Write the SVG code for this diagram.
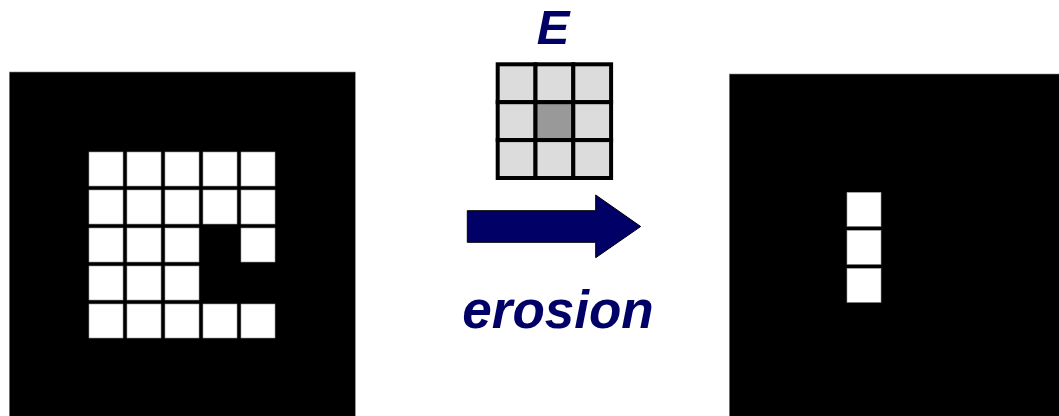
<svg xmlns="http://www.w3.org/2000/svg" width="1059" height="416" viewBox="0 0 1059 416">
<style>
.bg{fill:#000;stroke:#888;stroke-width:0.6}
.px{fill:#fff;stroke:#999;stroke-width:0.6}
.se{fill:#dcdcdc;stroke:#000;stroke-width:4}
.sec{fill:#999;stroke:#000;stroke-width:4}
.lbl{font-family:"Liberation Sans",Arial,sans-serif;font-weight:bold;font-style:italic;fill:#000066}
</style>
<rect width="1059" height="416" fill="#fff"/>
<g id="input-image">
<rect class="bg" x="9.3" y="72" width="346" height="346"/>
<rect class="px" x="89" y="152" width="34" height="34"/><rect class="px" x="127" y="152" width="34" height="34"/><rect class="px" x="165" y="152" width="34" height="34"/><rect class="px" x="203" y="152" width="34" height="34"/><rect class="px" x="241" y="152" width="34" height="34"/>
<rect class="px" x="89" y="190" width="34" height="34"/><rect class="px" x="127" y="190" width="34" height="34"/><rect class="px" x="165" y="190" width="34" height="34"/><rect class="px" x="203" y="190" width="34" height="34"/><rect class="px" x="241" y="190" width="34" height="34"/>
<rect class="px" x="89" y="228" width="34" height="34"/><rect class="px" x="127" y="228" width="34" height="34"/><rect class="px" x="165" y="228" width="34" height="34"/><rect class="px" x="241" y="228" width="34" height="34"/>
<rect class="px" x="89" y="266" width="34" height="34"/><rect class="px" x="127" y="266" width="34" height="34"/><rect class="px" x="165" y="266" width="34" height="34"/>
<rect class="px" x="89" y="304" width="34" height="34"/><rect class="px" x="127" y="304" width="34" height="34"/><rect class="px" x="165" y="304" width="34" height="34"/><rect class="px" x="203" y="304" width="34" height="34"/><rect class="px" x="241" y="304" width="34" height="34"/>
</g>
<g id="structuring-element">
<text class="lbl" x="553" y="43.5" font-size="49" text-anchor="middle">E</text>
<rect class="se" x="497.7" y="64.3" width="37.8" height="37.9"/><rect class="se" x="535.5" y="64.3" width="37.8" height="37.9"/><rect class="se" x="573.3" y="64.3" width="37.8" height="37.9"/>
<rect class="se" x="497.7" y="102.2" width="37.8" height="37.9"/><rect class="sec" x="535.5" y="102.2" width="37.8" height="37.9"/><rect class="se" x="573.3" y="102.2" width="37.8" height="37.9"/>
<rect class="se" x="497.7" y="140.1" width="37.8" height="37.9"/><rect class="se" x="535.5" y="140.1" width="37.8" height="37.9"/><rect class="se" x="573.3" y="140.1" width="37.8" height="37.9"/>
</g>
<g id="connectors">
<polygon points="467.3,210.7 595.7,210.7 595.7,195 640.7,226.5 595.7,257.7 595.7,242.3 467.3,242.3" fill="#000066" stroke="#000" stroke-width="1"/>
<text class="lbl" x="558" y="328.3" font-size="53" text-anchor="middle">erosion</text>
</g>
<g id="output-image">
<rect class="bg" x="729.3" y="74" width="332" height="344"/>
<rect class="px" x="847" y="192.3" width="34" height="34"/>
<rect class="px" x="847" y="230.3" width="34" height="34"/>
<rect class="px" x="847" y="268.3" width="34" height="34"/>
</g>
</svg>
